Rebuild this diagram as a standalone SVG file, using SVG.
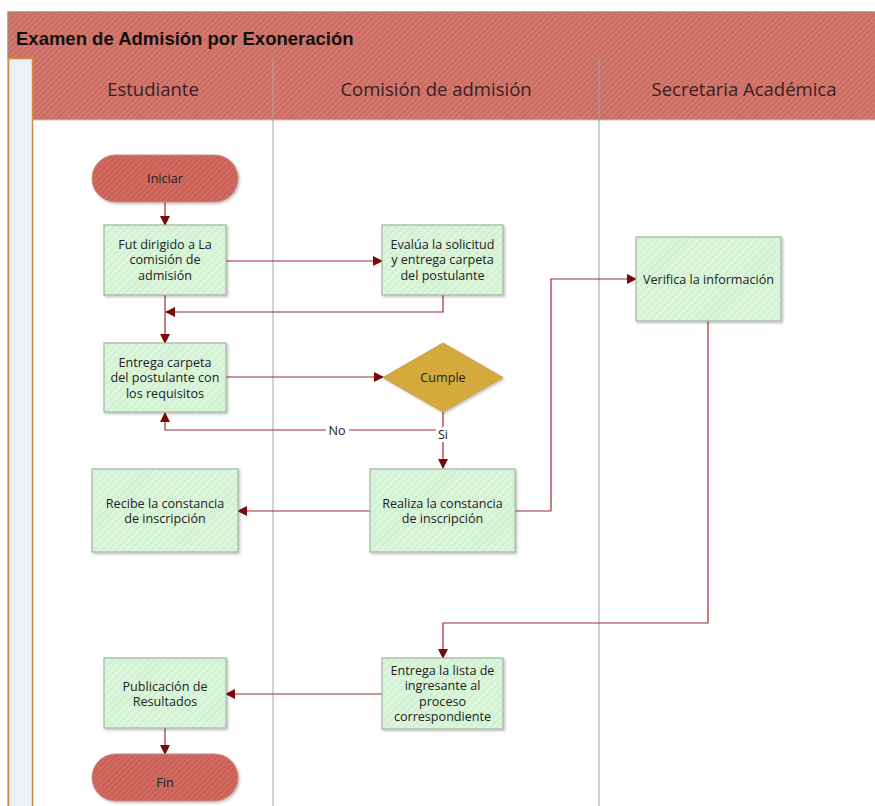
<svg xmlns="http://www.w3.org/2000/svg" width="875" height="806" viewBox="0 0 875 806">
<defs>
<pattern id="hatchRed" patternUnits="userSpaceOnUse" width="4" height="4" patternTransform="rotate(45)">
<rect width="4" height="4" fill="#d4786e"/>
<rect width="1.2" height="4" fill="#c4675e"/>
</pattern>
<pattern id="hatchGreen" patternUnits="userSpaceOnUse" width="5" height="5" patternTransform="rotate(45)">
<rect width="5" height="5" fill="#dcf6dc"/>
<rect width="1.5" height="5" fill="#cdeecd"/>
</pattern>
<pattern id="hatchStad" patternUnits="userSpaceOnUse" width="4" height="4" patternTransform="rotate(45)">
<rect width="4" height="4" fill="#d26a5f"/>
<rect width="1.2" height="4" fill="#c25b52"/>
</pattern>
<marker id="arr" markerWidth="10" markerHeight="10" refX="9" refY="5" orient="auto" markerUnits="userSpaceOnUse">
<path d="M0,0 L10,5 L0,10 z" fill="#7a0a0a"/>
</marker>
<filter id="sh" x="-10%" y="-10%" width="130%" height="130%">
<feDropShadow dx="1.5" dy="1.5" stdDeviation="1.2" flood-color="#000" flood-opacity="0.25"/>
</filter>
</defs>
<style>
.box{fill:url(#hatchGreen);stroke:#a4b4a4;stroke-width:1.2;filter:url(#sh)}
.stad{fill:url(#hatchStad);stroke:#c58a84;stroke-width:1;filter:url(#sh)}
.dia{fill:#d4aa3e;stroke:#c9a24a;stroke-width:1;filter:url(#sh)}
.t{font-family:"Open Sans","Noto Sans",sans-serif;font-size:12.6px;fill:#222;text-anchor:middle}
.h{font-family:"Open Sans","Noto Sans",sans-serif;font-size:18.5px;fill:#3a2020;text-anchor:middle}
.title{font-family:"Liberation Sans",Arial,sans-serif;font-size:18.5px;font-weight:bold;fill:#111}
.ca{fill:none;stroke:#9e2a34;stroke-width:1.2;marker-end:url(#arr)}
.lbl{font-family:"Open Sans","Noto Sans",sans-serif;font-size:12.6px;fill:#222;text-anchor:middle}
</style>
<rect width="875" height="806" fill="#fff"/>
<g id="pool">
<rect x="8" y="12" width="870" height="800" fill="#fff" stroke="#9a9a9a" stroke-width="1"/>
<rect x="8" y="12" width="870" height="46" fill="url(#hatchRed)" stroke="#9a8a86" stroke-width="1"/>
<text class="title" x="16" y="44.5">Examen de Admisión por Exoneración</text>
<rect x="32" y="58" width="846" height="62" fill="url(#hatchRed)"/>
<line x1="32" y1="120" x2="875" y2="120" stroke="#c9c0be" stroke-width="1"/>
<rect x="8.5" y="58.5" width="24" height="750" fill="#eef1f4" stroke="#d08a40" stroke-width="1.5"/>
<line x1="273" y1="58" x2="273" y2="806" stroke="#a8a8a8" stroke-width="1"/>
<line x1="599" y1="58" x2="599" y2="806" stroke="#8fa6a6" stroke-width="1"/>
<text class="h" x="153" y="95.5">Estudiante</text>
<text class="h" x="436" y="95.5">Comisión de admisión</text>
<text class="h" x="744" y="95.5">Secretaria Académica</text>
</g>
<g id="connectors">
<path class="ca" d="M165,202 L165,225"/>
<path class="ca" d="M226,261 L382,261"/>
<path class="ca" d="M443,295 L443,312 L166,312"/>
<path class="ca" d="M165,295 L165,343"/>
<path class="ca" d="M226,377 L383,377"/>
<path class="ca" d="M443,412 L443,430 L165,430 L165,413"/>
<path class="ca" d="M443,430 L443,468"/>
<path class="ca" d="M370,511 L238,511"/>
<path class="ca" d="M515,511 L551,511 L551,279 L636,279"/>
<path class="ca" d="M708,321 L708,623 L443,623 L443,658"/>
<path class="ca" d="M382,694 L226,694"/>
<path class="ca" d="M165,728 L165,754"/>
<rect x="326" y="423" width="23" height="15" fill="#fff"/>
<text class="lbl" x="337" y="434.5">No</text>
<rect x="436" y="427" width="14" height="15" fill="#fff"/>
<text class="lbl" x="443" y="439">Si</text>
</g>
<g id="iniciar">
<rect class="stad" x="92" y="155" width="146" height="47" rx="23.5"/>
<text class="t" x="165" y="183">Iniciar</text>
</g>
<g id="fut">
<rect class="box" x="104" y="225" width="122" height="70"/>
<text class="t" x="165" y="248.5">Fut dirigido a La</text>
<text class="t" x="165" y="264">comisión de</text>
<text class="t" x="165" y="279.5">admisión</text>
</g>
<g id="evalua">
<rect class="box" x="382" y="225" width="121" height="70"/>
<text class="t" x="442.5" y="248.5">Evalúa la solicitud</text>
<text class="t" x="442.5" y="264">y entrega carpeta</text>
<text class="t" x="442.5" y="279.5">del postulante</text>
</g>
<g id="entrega">
<rect class="box" x="104" y="343" width="122" height="69"/>
<text class="t" x="165" y="366.5">Entrega carpeta</text>
<text class="t" x="165" y="382">del postulante con</text>
<text class="t" x="165" y="397.5">los requisitos</text>
</g>
<g id="cumple">
<path class="dia" d="M443,343 L503,377.5 L443,412 L383,377.5 z"/>
<text class="t" x="443" y="382">Cumple</text>
</g>
<g id="recibe">
<rect class="box" x="92" y="469" width="146" height="83"/>
<text class="t" x="165" y="507.5">Recibe la constancia</text>
<text class="t" x="165" y="523">de inscripción</text>
</g>
<g id="realiza">
<rect class="box" x="370" y="469" width="145" height="83"/>
<text class="t" x="442.5" y="507.5">Realiza la constancia</text>
<text class="t" x="442.5" y="523">de inscripción</text>
</g>
<g id="verifica">
<rect class="box" x="636" y="237" width="145" height="84"/>
<text class="t" x="708.5" y="283.5">Verifica la información</text>
</g>
<g id="lista">
<rect class="box" x="382" y="658" width="121" height="71"/>
<text class="t" x="442.5" y="674.5">Entrega la lista de</text>
<text class="t" x="442.5" y="690">ingresante al</text>
<text class="t" x="442.5" y="705.5">proceso</text>
<text class="t" x="442.5" y="721">correspondiente</text>
</g>
<g id="publicacion">
<rect class="box" x="104" y="658" width="122" height="70"/>
<text class="t" x="165" y="690.5">Publicación de</text>
<text class="t" x="165" y="706">Resultados</text>
</g>
<g id="fin">
<rect class="stad" x="92" y="754" width="146" height="47" rx="23.5"/>
<text class="t" x="165" y="786.5">Fin</text>
</g>
</svg>
